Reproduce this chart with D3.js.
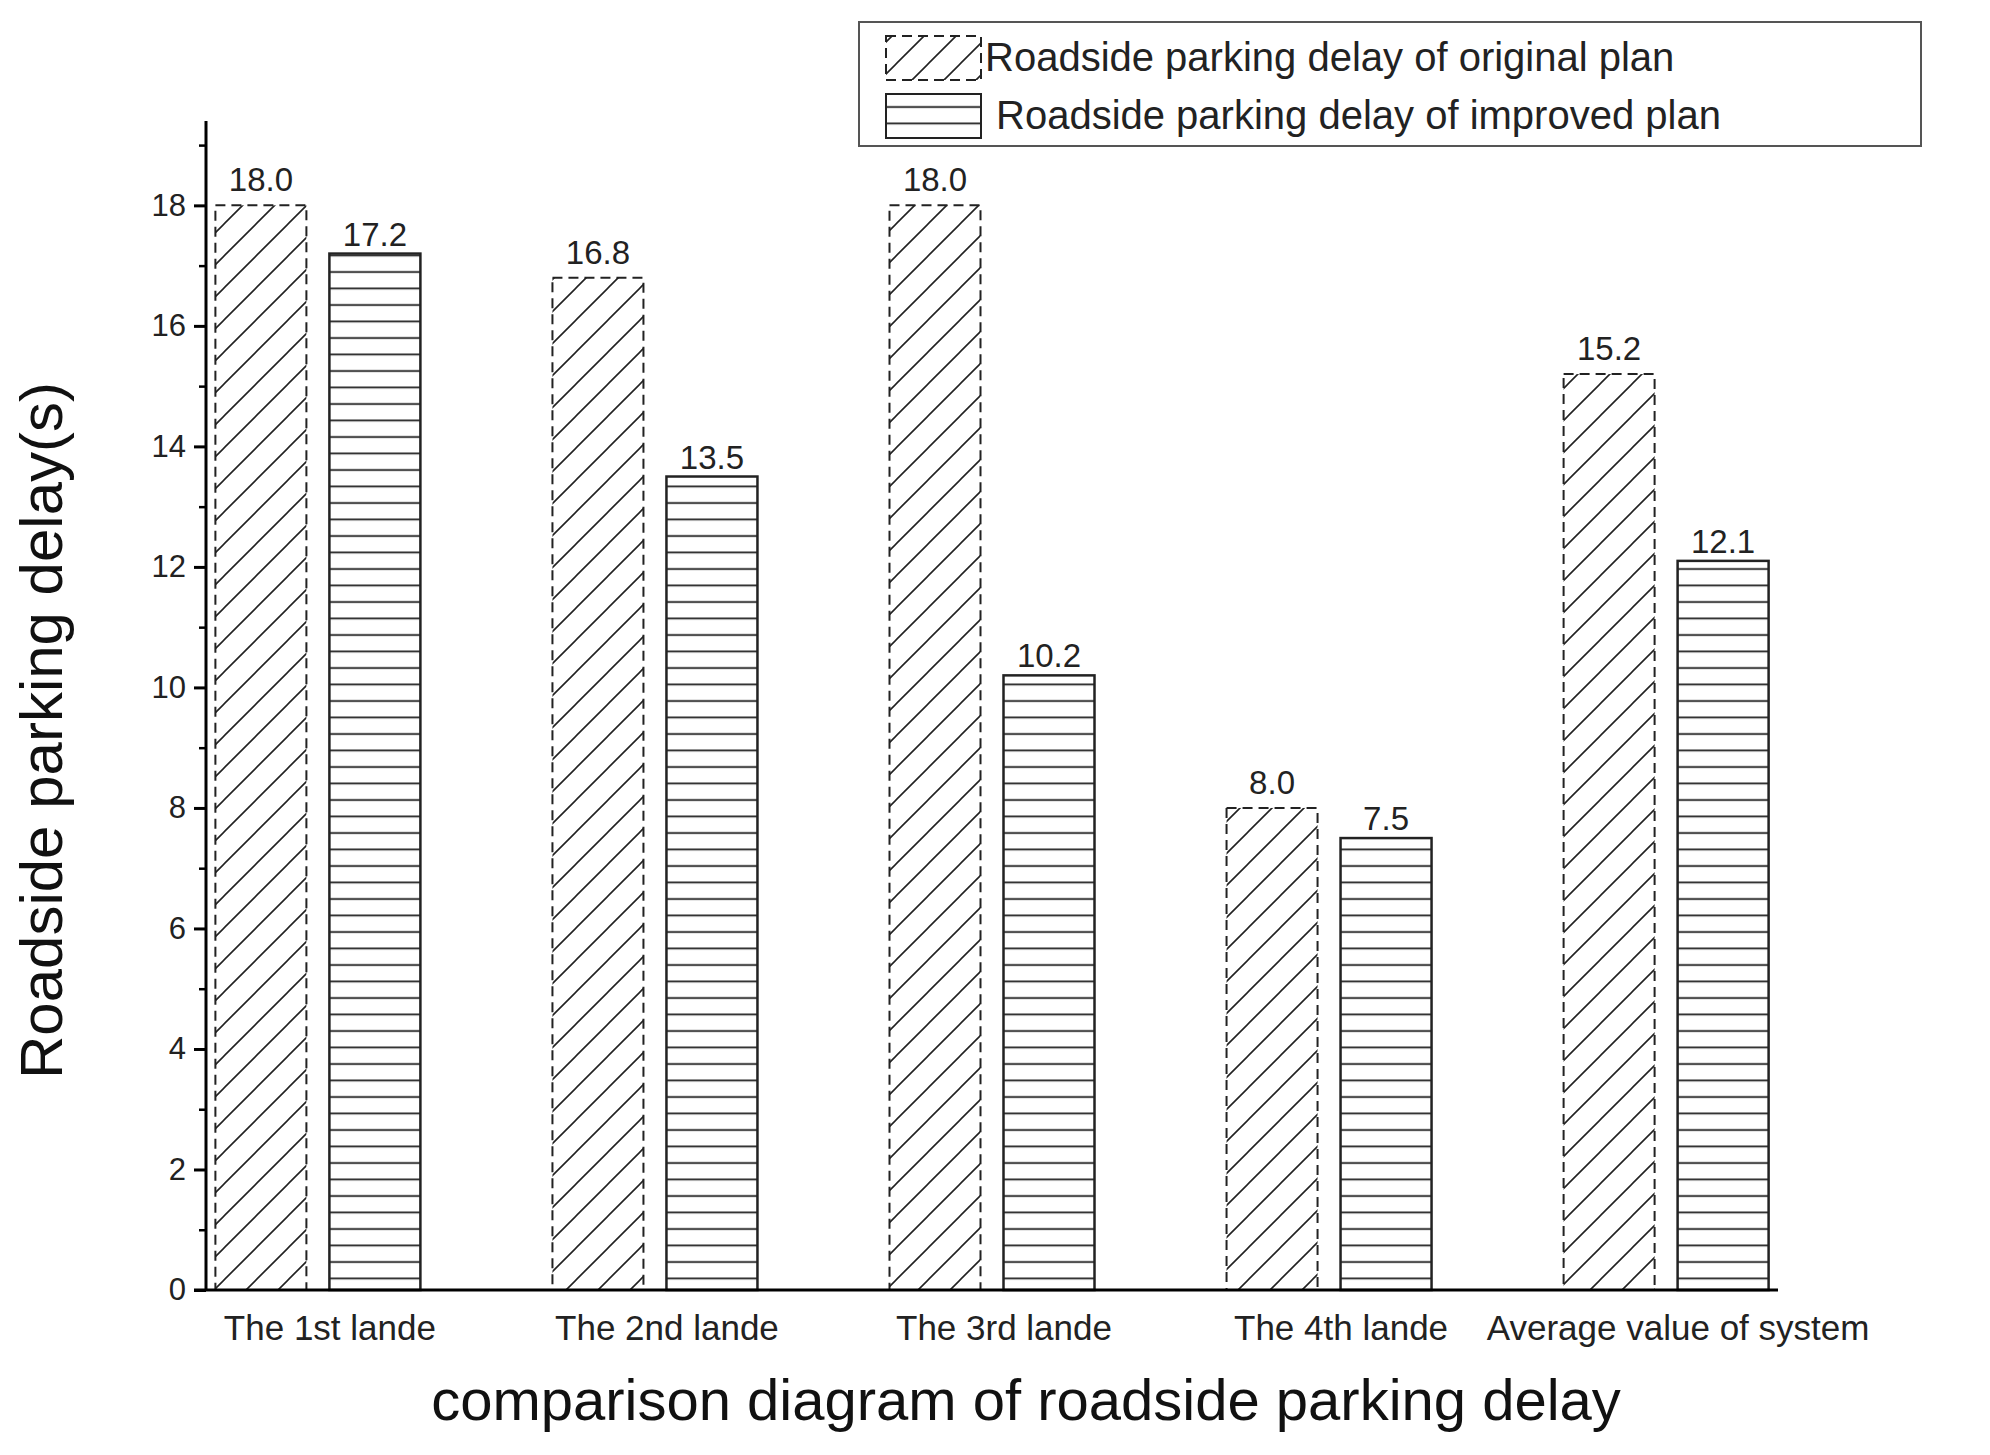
<!DOCTYPE html>
<html lang="en">
<head>
<meta charset="UTF-8">
<script src="https://d3js.org/d3.v7.min.js"></script>
<style>
  body { margin: 0; background: #fff; font-family: Arial, "Liberation Sans", sans-serif; }
</style>
</head>
<body>
<svg width="1990" height="1455"></svg>
<script>
    // data
    const categories = ["The 1st lande", "The 2nd lande", "The 3rd lande", "The 4th lande", "Average value of system"];
    const originalPlan = [18.0, 16.8, 18.0, 8.0, 15.2];
    const improvedPlan = [17.2, 13.5, 10.2, 7.5, 12.1];
    const seriesNames = ["Roadside parking delay of original plan", "Roadside parking delay of improved plan"];
    const yTicks = [0, 2, 4, 6, 8, 10, 12, 14, 16, 18];

    const svg = d3.select("svg");
    const mLeft = 206, mRight = 1778, mTop = 121, mBottom = 1290;

    const y = d3.scaleLinear().domain([0, 19.4]).range([mBottom, mTop]);
    const x = d3.scalePoint().domain(categories).range([mLeft, mRight]).padding(0.332);
    const barW = 91, gap = 23;

    // patterns
    const defs = svg.append("defs");
    const diag = defs.append("pattern").attr("id", "diag").attr("patternUnits", "userSpaceOnUse")
        .attr("width", 32).attr("height", 32);
    diag.append("path").attr("d", "M-8,8 L8,-8 M0,32 L32,0 M24,40 L40,24")
        .attr("stroke", "#222").attr("stroke-width", 1.6);
    const horiz = defs.append("pattern").attr("id", "horiz").attr("patternUnits", "userSpaceOnUse")
        .attr("width", 16).attr("height", 16.5);
    horiz.append("line").attr("x1", 0).attr("x2", 16).attr("y1", 8).attr("y2", 8)
        .attr("stroke", "#222").attr("stroke-width", 1.8);

    const g = svg.append("g");
    categories.forEach((c, i) => {
        const cx = x(c);
        const x0 = cx - gap / 2 - barW, x1 = cx + gap / 2;
        g.append("rect").attr("x", x0).attr("y", y(originalPlan[i]))
            .attr("width", barW).attr("height", y(0) - y(originalPlan[i]))
            .attr("fill", "url(#diag)").attr("stroke", "#222").attr("stroke-width", 2)
            .attr("stroke-dasharray", "10,6");
        g.append("rect").attr("x", x1).attr("y", y(improvedPlan[i]))
            .attr("width", barW).attr("height", y(0) - y(improvedPlan[i]))
            .attr("fill", "url(#horiz)").attr("stroke", "#222").attr("stroke-width", 2.5);
        g.append("text").attr("x", x0 + barW / 2).attr("y", y(originalPlan[i]) - 14)
            .attr("text-anchor", "middle").attr("font-size", 33).attr("fill", "#222")
            .text(originalPlan[i].toFixed(1));
        g.append("text").attr("x", x1 + barW / 2).attr("y", y(improvedPlan[i]) - 8)
            .attr("text-anchor", "middle").attr("font-size", 33).attr("fill", "#222")
            .text(improvedPlan[i].toFixed(1));
        g.append("text").attr("x", cx + 12).attr("y", mBottom + 50)
            .attr("text-anchor", "middle").attr("font-size", 35).attr("fill", "#222")
            .text(c);
    });

    // y axis
    const yAxis = svg.append("g").attr("transform", `translate(${mLeft},0)`)
        .call(d3.axisLeft(y).tickValues(yTicks).tickSize(12).tickPadding(8).tickFormat(d3.format("d")));
    yAxis.select(".domain").attr("stroke-width", 3).attr("d", `M0,${mTop}V${mBottom}`);
    yAxis.selectAll(".tick line").attr("stroke-width", 3);
    yAxis.selectAll(".tick text").attr("font-size", 31).attr("font-family", "Arial, sans-serif").attr("fill", "#222");
    svg.append("g").attr("transform", `translate(${mLeft},0)`)
        .call(d3.axisLeft(y).tickValues(d3.range(1, 20, 2)).tickSize(7).tickFormat(""))
        .call(a => a.select(".domain").remove())
        .selectAll("line").attr("stroke-width", 2.5);

    // x axis line
    svg.append("line").attr("x1", mLeft - 12).attr("x2", mRight).attr("y1", mBottom).attr("y2", mBottom)
        .attr("stroke", "#000").attr("stroke-width", 3);

    // titles
    svg.append("text").attr("transform", `translate(62,${(mTop + mBottom) / 2 + 25}) rotate(-90)`)
        .attr("text-anchor", "middle").attr("font-size", 60).attr("fill", "#111")
        .text("Roadside parking delay(s)");
    svg.append("text").attr("x", 1026).attr("y", 1420)
        .attr("text-anchor", "middle").attr("font-size", 58).attr("fill", "#111")
        .text("comparison diagram of roadside parking delay");

    // legend
    const lg = svg.append("g");
    lg.append("rect").attr("x", 859).attr("y", 22).attr("width", 1062).attr("height", 124)
        .attr("fill", "#fff").attr("stroke", "#555").attr("stroke-width", 2);
    [["url(#diag)", "10,6"], ["url(#horiz)", null]].forEach((s, i) => {
        const yy = 36 + i * 58;
        lg.append("rect").attr("x", 886).attr("y", yy).attr("width", 95).attr("height", 44)
            .attr("fill", s[0]).attr("stroke", "#222").attr("stroke-width", 2)
            .attr("stroke-dasharray", s[1]);
        lg.append("text").attr("x", i === 0 ? 985 : 996).attr("y", yy + 35)
            .attr("font-size", 40).attr("fill", "#222").text(seriesNames[i]);
    });
</script>
</body>
</html>
